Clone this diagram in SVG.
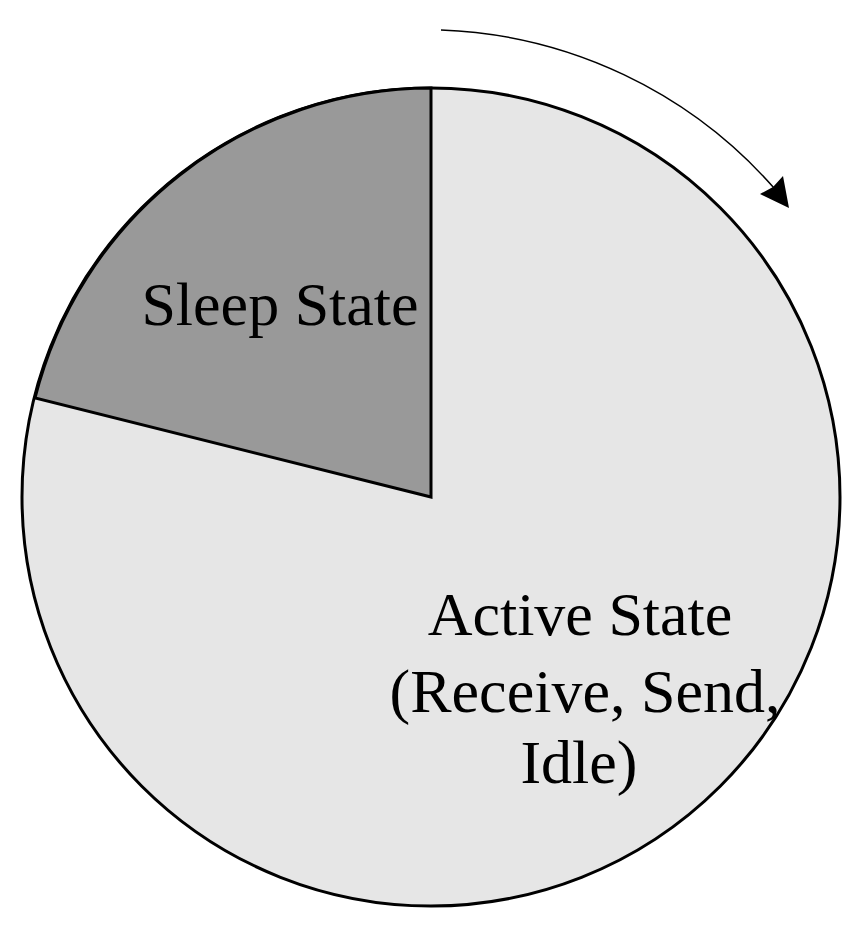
<svg xmlns="http://www.w3.org/2000/svg" width="868" height="933" viewBox="0 0 868 933">
<style>
.lbl{font-family:"Liberation Serif","Times New Roman",serif;font-size:62px;fill:#000}
.edge{stroke:#000;stroke-width:3;stroke-linejoin:miter}
</style>
<rect width="868" height="933" fill="#fff"/>
<g id="active">
<circle cx="431" cy="497" r="409" fill="#e6e6e6" class="edge"/>
<text class="lbl" x="580" y="635" text-anchor="middle">Active State</text>
<text class="lbl" x="585" y="712" text-anchor="middle">(Receive, Send,</text>
<text class="lbl" x="579" y="783" text-anchor="middle">Idle)</text>
</g>
<g id="sleep">
<path d="M431 497 L431 88 A409 409 0 0 0 35 398 Z" fill="#999999" class="edge"/>
<text class="lbl" x="280" y="325" text-anchor="middle">Sleep State</text>
</g>
<g id="connectors">
<path d="M441 30 A466 466 0 0 1 774 188" fill="none" stroke="#000" stroke-width="1.5"/>
<path d="M789 208 L760 194 L773 187 L783 176 Z" fill="#000"/>
</g>
</svg>
